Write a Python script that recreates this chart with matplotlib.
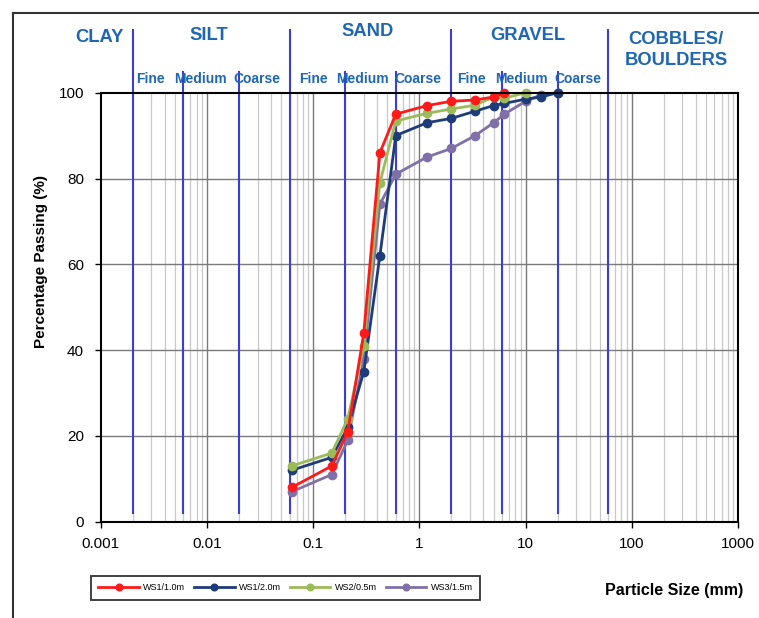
import matplotlib
matplotlib.use("Agg")
import matplotlib.pyplot as plt
from matplotlib.lines import Line2D
from matplotlib.ticker import FixedLocator, NullFormatter
import numpy as np

plt.rcParams['font.family'] = ['Liberation Sans', 'DejaVu Sans']

# ---------------- data ----------------
sieve_ws1_10 = [0.063, 0.15, 0.212, 0.3, 0.425, 0.6, 1.18, 2.0, 3.35, 5.0, 6.3]
pass_ws1_10 = [8, 13, 21, 44, 86, 95, 97, 98, 98.3, 99, 100]

sieve_ws1_20 = [0.063, 0.15, 0.212, 0.3, 0.425, 0.6, 1.18, 2.0, 3.35, 5.0, 6.3, 10, 14, 20]
pass_ws1_20 = [12, 15, 22, 35, 62, 90, 93, 94, 95.7, 97, 97.5, 98.5, 99, 100]

sieve_ws2_05 = [0.063, 0.15, 0.212, 0.3, 0.425, 0.6, 1.18, 2.0, 3.35, 5.0, 6.3, 10]
pass_ws2_05 = [13, 16, 24, 41, 79, 93.4, 95.2, 96.2, 97.1, 99, 98.7, 100]

sieve_ws3_15 = [0.063, 0.15, 0.212, 0.3, 0.425, 0.6, 1.18, 2.0, 3.35, 5.0, 6.3, 10, 14, 20]
pass_ws3_15 = [7, 11, 19, 38, 74, 81, 85, 87, 90, 93, 95, 98, 99.5, 100]

series_labels = ["WS1/1.0m", "WS1/2.0m", "WS2/0.5m", "WS3/1.5m"]
series_colors = ["#ff1a1a", "#1f3c7a", "#9bbb59", "#8070a8"]

major_bounds = [0.002, 0.06, 2, 60]
minor_bounds = [0.006, 0.02, 0.2, 0.6, 6, 20]
soil_classes = ["CLAY", "SILT", "SAND", "GRAVEL", "COBBLES/\nBOULDERS"]
sub_classes = ["Fine", "Medium", "Coarse"]

x_ticks = [0.001, 0.01, 0.1, 1, 10, 100, 1000]
x_tick_labels = ["0.001", "0.01", "0.1", "1", "10", "100", "1000"]
y_ticks = [0, 20, 40, 60, 80, 100]

# ---------------- figure ----------------
W, H = 759, 618
fig = plt.figure(figsize=(W / 100, H / 100), dpi=100)
ax = fig.add_axes([100.7 / W, 1 - 521.7 / H, (738 - 100.7) / W, (521.7 - 92.7) / H])

ax.set_xscale('log')
ax.set_xlim(0.001, 1000)
ax.set_ylim(0, 100)

# grid
minor_x = [m * 10.0 ** e for e in range(-3, 3) for m in range(2, 10)]
for v in minor_x:
    ax.axvline(v, color='#c8c8c8', lw=0.9, zorder=1)
for v in x_ticks[1:-1]:
    ax.axvline(v, color='#7a7a7a', lw=1.0, zorder=1)
for v in y_ticks[1:-1]:
    ax.axhline(v, color='#7a7a7a', lw=1.0, zorder=1)

# soil boundary lines (extend above axes)
blue_line = '#3c3cd6'
for b in major_bounds:
    ax.plot([b, b], [2, 114.6], color=blue_line, lw=1.5, clip_on=False, zorder=2)
for b in minor_bounds:
    ax.plot([b, b], [2, 104.8], color=blue_line, lw=1.5, clip_on=False, zorder=2)

# data series
all_x = [sieve_ws1_10, sieve_ws1_20, sieve_ws2_05, sieve_ws3_15]
all_y = [pass_ws1_10, pass_ws1_20, pass_ws2_05, pass_ws3_15]
handles = []
zorders = [6, 5, 5.5, 4]
for xs, ys, lab, col, zo in zip(all_x, all_y, series_labels, series_colors, zorders):
    h, = ax.plot(xs, ys, '-o', color=col, lw=2.0, ms=6, label=lab, zorder=zo,
                 clip_on=False)
    handles.append(h)

# axes style
for s in ax.spines.values():
    s.set_linewidth(1.5)
    s.set_color('black')
    s.set_zorder(7)
ax.xaxis.set_major_locator(FixedLocator(x_ticks))
ax.set_xticklabels(x_tick_labels)
ax.xaxis.set_minor_locator(FixedLocator(minor_x))
ax.xaxis.set_minor_formatter(NullFormatter())
ax.set_yticks(y_ticks)
ax.tick_params(axis='x', which='major', length=4, width=1, pad=7, labelsize=11)
ax.tick_params(axis='x', which='minor', length=0)
ax.tick_params(axis='y', length=4, width=1, pad=8, labelsize=11)

# y label
fig.text(41.5 / W, 1 - 261 / H, "Percentage Passing (%)", rotation=90,
         ha='center', va='center', fontsize=11, fontweight='bold')
# x label
fig.text(674 / W, 1 - 591 / H, "Particle Size (mm)", ha='center', va='center',
         fontsize=11.5, fontweight='bold')

# soil class headers
txt_col = '#1f66b5'
class_pos = [(100, 37), (209, 36), (368, 32), (528, 35), (676, 50)]
for name, (px, py) in zip(soil_classes, class_pos):
    fig.text(px / W, 1 - py / H, name, ha='center', va='center', fontsize=13.2,
             fontweight='bold', color=txt_col, linespacing=1.3)

sub_pos = [[150, 200, 257], [313, 362, 418], [471, 521, 578]]
for group in sub_pos:
    for name, px in zip(sub_classes, group):
        fig.text(px / W, 1 - 79 / H, name, ha='center', va='center', fontsize=10,
                 fontweight='bold', color=txt_col)

# legend
leg = fig.legend(handles=handles, loc='center', ncol=4, mode='expand',
                 bbox_to_anchor=(91 / W, 1 - 603 / H, (480 - 91) / W, 30 / H),
                 fontsize=6.5, frameon=True, fancybox=False, handlelength=4.5,
                 markerscale=0.8, borderaxespad=0, borderpad=0.8,
                 columnspacing=1.0, handletextpad=0.5)
leg.get_frame().set_edgecolor('black')
leg.get_frame().set_linewidth(1.3)

# outer border (top & left visible)
fig.add_artist(Line2D([13 / W, 1], [1 - 13 / H, 1 - 13 / H], color='#333333', lw=1.5,
                      transform=fig.transFigure))
fig.add_artist(Line2D([13 / W, 13 / W], [1 - 13 / H, 0], color='#333333', lw=1.5,
                      transform=fig.transFigure))

fig.savefig("out.png", dpi=100)
